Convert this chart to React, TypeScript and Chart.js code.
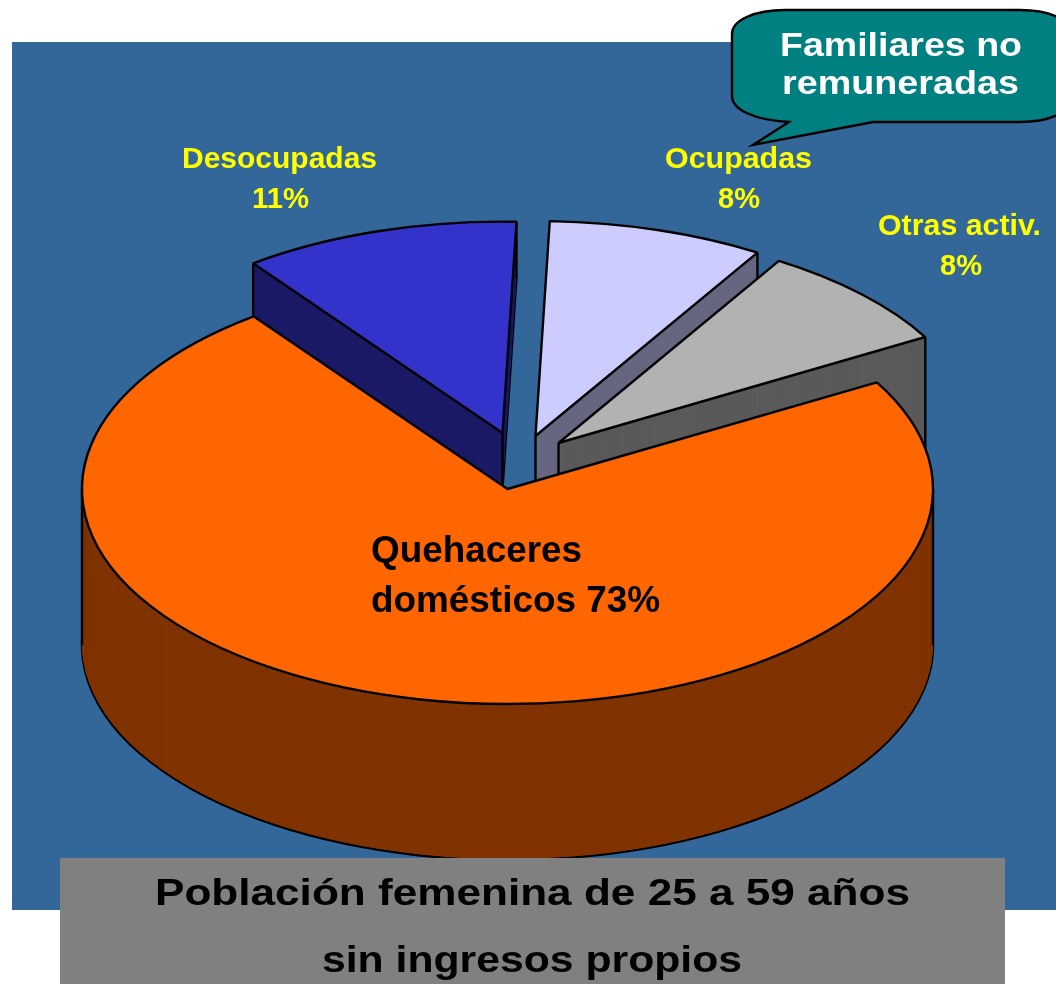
import React, { useEffect, useRef } from "react";
import { Chart, registerables } from "chart.js";

Chart.register(...registerables);

const categories = ["Desocupadas", "Ocupadas", "Otras activ.", "Quehaceres domésticos"];
const values = [10.7, 8.2, 8.0, 73.1];
const percentLabels = ["11%", "8%", "8%", "73%"];
const topColors = ["#3333CC", "#CCCCFF", "#B2B2B2", "#FF6600"];
const wallColors = ["#1A1A66", "#666680", "#5A5A5A", "#803300"];
const calloutLines = ["Familiares no", "remuneradas"];
const titleLines = ["Población femenina de 25 a 59 años", "sin ingresos propios"];

// 3D look of the pie: ellipse squash, centre on the page, explosion and wall height per slice
const RADIUS = 425.5;
const SQUASH = 215 / 425.5;
const CX = 507.5;
const CY = 489;
const LINE = 2.4;
const explode = [
  { dx: -5, dy: -56, depth: 56, shrink: 0.983 },
  { dx: 28, dy: -53, depth: 156, shrink: 1 },
  { dx: 51, dy: -46, depth: 156, shrink: 0.993 },
  { dx: 0, dy: 0, depth: 156, shrink: 1 },
];

function fitText(ctx: any, s: string, x: number, y: number, font: string, color: string, width: number) {
  ctx.save();
  ctx.font = font;
  ctx.fillStyle = color;
  ctx.textAlign = "left";
  ctx.textBaseline = "alphabetic";
  const natural = ctx.measureText(s).width;
  ctx.translate(x, y);
  ctx.scale(width / natural, 1);
  ctx.fillText(s, 0, 0);
  ctx.restore();
}

function drawFace(ctx: any, arc: any, tx: number, ty: number, fill: string, borderWidth: number, shrink: number) {
  const ghost = Object.create(arc);
  ghost.options = { ...arc.options, backgroundColor: fill, borderColor: "#000000", borderWidth, offset: 0, spacing: 0 };
  ghost.outerRadius = arc.outerRadius * shrink;
  ctx.save();
  ctx.translate(tx, ty);
  ctx.scale(1, SQUASH);
  ctx.translate(-arc.x, -arc.y);
  const plainStroke = ctx.stroke;
  ctx.stroke = function () {
    const t = ctx.getTransform();
    ctx.setTransform(1, 0, 0, 1, 0, 0);
    plainStroke.call(ctx);
    ctx.setTransform(t);
  };
  ghost.draw(ctx);
  delete ctx.stroke;
  ctx.restore();
}

function wallEdge(ctx: any, x: number, y: number, depth: number) {
  ctx.save();
  ctx.strokeStyle = "#000000";
  ctx.lineWidth = LINE;
  ctx.beginPath();
  ctx.moveTo(x, y);
  ctx.lineTo(x, y + depth);
  ctx.stroke();
  ctx.restore();
}

function isInside(angle: number, start: number, end: number) {
  const tau = Math.PI * 2;
  const a = ((angle - start) % tau + tau) % tau;
  return a <= end - start;
}

const pie3dPlugin = {
  id: "pie3d",
  beforeDraw(chart: any) {
    const ctx = chart.ctx;
    ctx.save();
    ctx.fillStyle = "#FFFFFF";
    ctx.fillRect(0, 0, chart.width, chart.height);
    ctx.fillStyle = "#336699";
    ctx.fillRect(12, 42, chart.width - 12, 868);
    ctx.restore();
  },
  beforeDatasetDraw(chart: any) {
    const ctx = chart.ctx;
    const arcs = chart.getDatasetMeta(0).data;
    arcs.forEach((arc: any, i: number) => {
      const { dx, dy, depth, shrink } = explode[i];
      const tx = CX + dx;
      const ty = CY + dy;
      const r = arc.outerRadius * shrink;
      drawFace(ctx, arc, tx, ty + depth, wallColors[i], LINE, shrink);
      for (let d = depth - 1; d > 0; d -= 1) drawFace(ctx, arc, tx, ty + d, wallColors[i], 0, shrink);
      // vertical wall edges: only those that face the viewer
      const rimAngles = [arc.startAngle, arc.endAngle, 0, Math.PI].filter(
        (a) => isInside(a, arc.startAngle, arc.endAngle) && !(a === arc.startAngle && Math.cos(a) > 0)
      );
      rimAngles.forEach((a) => wallEdge(ctx, tx + r * Math.cos(a), ty + SQUASH * r * Math.sin(a), depth));
      wallEdge(ctx, tx, ty, depth);
      drawFace(ctx, arc, tx, ty, topColors[i], LINE, shrink);
    });
    return false;
  },
  afterDatasetsDraw(chart: any) {
    const ctx = chart.ctx;
    // slice labels
    const Y = "#FFFF00";
    const small = "bold 30px 'Liberation Sans'";
    fitText(ctx, categories[0], 182, 168, small, Y, 195);
    fitText(ctx, percentLabels[0], 252, 208, small, Y, 57);
    fitText(ctx, categories[1], 665, 168, small, Y, 147);
    fitText(ctx, percentLabels[1], 718, 208, small, Y, 42);
    fitText(ctx, categories[2], 878, 235, small, Y, 163);
    fitText(ctx, percentLabels[2], 940, 275, small, Y, 42);
    const big = "bold 37px 'Liberation Sans'";
    const [w1, w2] = categories[3].split(" ");
    fitText(ctx, w1, 371, 562, big, "#000000", 211);
    fitText(ctx, w2 + " " + percentLabels[3], 371, 612, big, "#000000", 289);

    // callout
    ctx.save();
    ctx.fillStyle = "#008080";
    ctx.strokeStyle = "#000000";
    ctx.lineWidth = 2.4;
    ctx.beginPath();
    ctx.moveTo(785, 10);
    ctx.lineTo(1020, 10);
    ctx.bezierCurveTo(1050, 10, 1074, 20, 1076, 40);
    ctx.lineTo(1076, 92);
    ctx.bezierCurveTo(1074, 112, 1050, 122, 1020, 122);
    ctx.lineTo(873, 122);
    ctx.lineTo(753, 145);
    ctx.lineTo(789, 122);
    ctx.bezierCurveTo(755, 120, 732, 110, 732, 96);
    ctx.lineTo(732, 34);
    ctx.bezierCurveTo(732, 20, 755, 10, 785, 10);
    ctx.closePath();
    ctx.fill();
    ctx.stroke();
    ctx.restore();
    const callout = "bold 33px 'Liberation Sans'";
    fitText(ctx, calloutLines[0], 780, 56, callout, "#FFFFFF", 242);
    fitText(ctx, calloutLines[1], 782, 94, callout, "#FFFFFF", 237);

    // title box
    ctx.save();
    ctx.fillStyle = "#808080";
    ctx.fillRect(60, 858, 945, 126);
    ctx.restore();
    const title = "bold 37px 'Liberation Sans'";
    fitText(ctx, titleLines[0], 155, 905, title, "#000000", 755);
    fitText(ctx, titleLines[1], 322, 972, title, "#000000", 420);
  },
};

export default function App() {
  const ref = useRef<HTMLCanvasElement | null>(null);
  useEffect(() => {
    document.body.style.margin = "0";
    const chart = new Chart(ref.current as any, {
      type: "pie",
      data: {
        labels: categories,
        datasets: [{ data: values, backgroundColor: topColors, borderColor: "#000000", borderWidth: 2 }],
      },
      options: {
        responsive: false,
        animation: false,
        events: [],
        radius: RADIUS,
        rotation: -36.6,
        layout: { padding: 0 },
        plugins: { legend: { display: false }, tooltip: { enabled: false } },
      } as any,
      plugins: [pie3dPlugin as any],
    });
    return () => chart.destroy();
  }, []);
  return <canvas ref={ref} width={1056} height={984} style={{ display: "block" }} />;
}
